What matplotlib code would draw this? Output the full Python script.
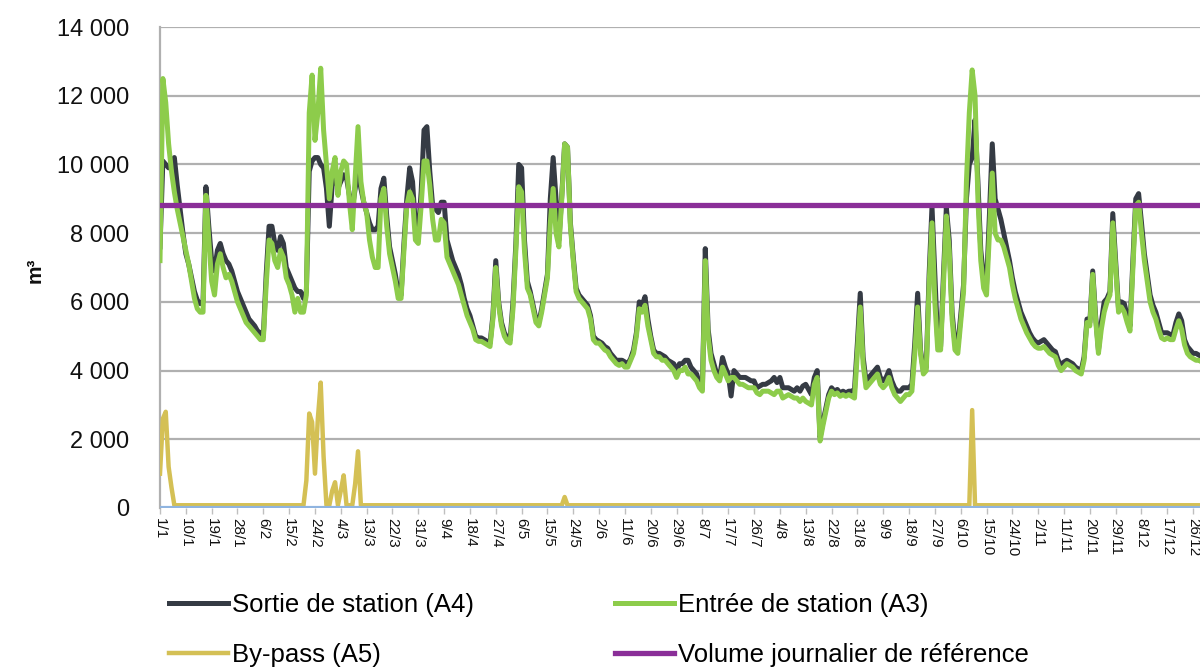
import matplotlib
matplotlib.use("Agg")
import matplotlib.pyplot as plt
import pandas as pd

plt.rcParams['font.family'] = ['Liberation Sans', 'DejaVu Sans']

# daily volumes (m3), leap year, 366 days
dates = pd.date_range("2016-01-01", "2016-12-31", freq="D")
days = list(range(len(dates)))

# Entrée de station (A3)
entree_jan = [7200, 12500, 11800, 10600, 9800, 9200, 8700, 8300, 7900, 7500, 7100, 6600, 6100, 5800, 5700, 5700,
              9100, 7800, 6600, 6200, 7100, 7400, 7000, 6700, 6800, 6600, 6300, 6000, 5800, 5600, 5400]
entree_feb = [5300, 5200, 5100, 5000, 4900, 4900, 6500, 7800, 7700, 7200, 7000, 7500, 7300, 6700, 6500, 6200,
              5700, 6100, 5700, 5700, 6200, 11500, 12600, 10700, 11500, 12800, 11000, 10000, 9000]
entree_mar = [9800, 10200, 9100, 9800, 10100, 10000, 8900, 8100, 9600, 11100, 9500, 8900, 8600, 7800, 7300, 7000,
              7000, 9000, 9300, 8200, 7400, 7000, 6600, 6100, 6100, 7500, 8800, 9200, 9000, 7800, 7700]
entree_apr = [8800, 10100, 10100, 9400, 8400, 7800, 7800, 8400, 8300, 7300, 7100, 6900, 6700, 6500, 6200, 5900,
              5600, 5400, 5200, 4900, 4850, 4850, 4800, 4750, 4700, 5500, 7000, 5900, 5300, 5000]
entree_may = [4850, 4800, 5800, 7500, 9350, 9200, 7500, 6400, 6200, 5800, 5400, 5300, 5700, 6200, 6700, 8300,
              9300, 8000, 7600, 9000, 10600, 10500, 8200, 7200, 6300, 6100, 6000, 5900, 5800, 5500, 4900]
entree_jun = [4800, 4800, 4700, 4600, 4550, 4400, 4300, 4200, 4150, 4200, 4100, 4100, 4300, 4500, 5000, 5800,
              5700, 5900, 5300, 4900, 4500, 4400, 4400, 4300, 4300, 4200, 4100, 4000, 3800, 4000]
entree_jul = [4000, 4100, 3900, 3900, 3800, 3700, 3500, 3400, 7200, 5000, 4300, 4000, 3800, 3700, 4100, 3900,
              3700, 3800, 3800, 3700, 3600, 3600, 3550, 3500, 3500, 3500, 3350, 3300, 3400, 3400, 3400]
entree_aug = [3350, 3300, 3400, 3400, 3200, 3250, 3300, 3250, 3200, 3200, 3100, 3200, 3100, 3050, 3000, 3600,
              3800, 1950, 2400, 2800, 3200, 3400, 3300, 3350, 3250, 3300, 3250, 3300, 3250, 3200, 4500]
entree_sep = [5850, 4200, 3500, 3600, 3700, 3800, 3900, 3600, 3500, 3600, 3800, 3500, 3300, 3200, 3100, 3200,
              3300, 3300, 3400, 4500, 5850, 4500, 3900, 4000, 6500, 8300, 6000, 4600, 4600, 6500]
entree_oct = [8500, 7500, 5500, 4600, 4500, 5400, 6300, 9500, 11500, 12750, 12000, 9000, 7200, 6400, 6200, 8000,
              9750, 8000, 7800, 7800, 7600, 7300, 7000, 6500, 6100, 5800, 5500, 5300, 5100, 4950, 4800]
entree_nov = [4700, 4650, 4650, 4700, 4600, 4500, 4450, 4400, 4150, 4000, 4100, 4200, 4150, 4100, 4000, 3950,
              3900, 4300, 5400, 5300, 6800, 5500, 4500, 5200, 5700, 6000, 6200, 8300, 7000, 5700]
entree_dec = [5850, 5700, 5400, 5150, 7000, 8800, 8900, 8000, 7200, 6600, 6000, 5700, 5500, 5200, 4950, 4900,
              4950, 4900, 4900, 5200, 5450, 5200, 4750, 4500, 4400, 4350, 4300, 4300, 4250, 4200, 4200]

# Sortie de station (A4)
sortie_jan = [7600, 10100, 10000, 9900, 10000, 10200, 9400, 8700, 8000, 7400, 7100, 6700, 6300, 6050, 5950, 6000,
              9350, 8200, 7200, 6900, 7500, 7700, 7400, 7200, 7100, 6900, 6600, 6300, 6100, 5900, 5700]
sortie_feb = [5500, 5400, 5300, 5150, 5100, 5000, 6800, 8200, 8200, 7700, 7500, 7900, 7700, 7000, 6800, 6600,
              6400, 6300, 6300, 6100, 6300, 9800, 10100, 10200, 10200, 10000, 9900, 9300, 8200]
sortie_mar = [9400, 9700, 9300, 9500, 9700, 9600, 9100, 8700, 9300, 9800, 9300, 8900, 8600, 8300, 8100, 8100,
              8200, 9300, 9600, 8500, 7600, 7200, 6800, 6250, 6200, 7700, 9000, 9900, 9500, 8200, 8000]
sortie_apr = [9200, 11000, 11100, 9800, 8800, 8700, 8600, 8900, 8900, 7800, 7500, 7200, 7000, 6800, 6500, 6100,
              5800, 5600, 5300, 5000, 4950, 4950, 4900, 4850, 4800, 5600, 7200, 6000, 5400, 5100]
sortie_may = [4950, 4900, 6000, 7700, 10000, 9900, 7800, 6600, 6300, 5900, 5500, 5400, 5800, 6300, 6800, 9000,
              10200, 9000, 7800, 9100, 10600, 10500, 8300, 7300, 6400, 6200, 6100, 6000, 5900, 5600, 5000]
sortie_jun = [4900, 4850, 4800, 4700, 4650, 4500, 4400, 4300, 4300, 4300, 4250, 4200, 4350, 4600, 5100, 6000,
              5900, 6150, 5500, 5000, 4600, 4500, 4500, 4450, 4400, 4300, 4250, 4200, 4000, 4200]
sortie_jul = [4200, 4300, 4300, 4100, 4000, 3900, 3600, 3500, 7550, 5200, 4500, 4200, 3900, 3800, 4380, 4100,
              3900, 3260, 4000, 3900, 3800, 3800, 3800, 3750, 3700, 3700, 3500, 3550, 3600, 3600, 3650]
sortie_aug = [3700, 3800, 3650, 3800, 3500, 3500, 3500, 3450, 3400, 3500, 3400, 3550, 3600, 3450, 3300, 3800,
              4000, 2050, 2500, 2900, 3300, 3500, 3400, 3450, 3350, 3400, 3350, 3400, 3400, 3450, 4800]
sortie_sep = [6250, 4400, 3700, 3800, 3900, 4000, 4100, 3800, 3700, 3800, 4000, 3700, 3500, 3400, 3400, 3500,
              3500, 3500, 3600, 4800, 6250, 4600, 4000, 4100, 6800, 8770, 6800, 4800, 4700, 6800]
sortie_oct = [8750, 7800, 5700, 4800, 4700, 5600, 6500, 9000, 10000, 10200, 11300, 9500, 7500, 6700, 6500, 8500,
              10600, 9000, 8700, 8400, 8000, 7600, 7200, 6700, 6300, 6000, 5700, 5500, 5300, 5100, 4950]
sortie_nov = [4850, 4800, 4850, 4900, 4800, 4700, 4600, 4550, 4300, 4150, 4250, 4300, 4250, 4200, 4100, 4050,
              4000, 4400, 5500, 5400, 6900, 5600, 4600, 5400, 6000, 6100, 6300, 8570, 7200, 5800]
sortie_dec = [6000, 5950, 5600, 5300, 7200, 9000, 9150, 8300, 7400, 6800, 6200, 5900, 5700, 5400, 5100, 5100,
              5100, 5050, 5050, 5400, 5650, 5450, 4900, 4700, 4600, 4500, 4500, 4450, 4400, 4350, 4350]

entree = (entree_jan + entree_feb + entree_mar + entree_apr + entree_may + entree_jun
          + entree_jul + entree_aug + entree_sep + entree_oct + entree_nov + entree_dec)
sortie = (sortie_jan + sortie_feb + sortie_mar + sortie_apr + sortie_may + sortie_jun
          + sortie_jul + sortie_aug + sortie_sep + sortie_oct + sortie_nov + sortie_dec)

# By-pass (A5): base level and days with overflow
bypass_base = 80
bypass_events = {0: 1000, 1: 2600, 2: 2800, 3: 1200, 4: 600,
                 51: 800, 52: 2750, 53: 2500, 54: 1000, 55: 2600, 56: 3650, 57: 1500,
                 60: 500, 61: 750, 63: 500, 64: 950, 68: 700, 69: 1650,
                 141: 320, 283: 2850}
bypass = [bypass_events.get(d, bypass_base) for d in days]

other = [0] * len(days)          # light blue series, flat at zero
reference = [8830] * len(days)   # Volume journalier de référence

tick_days = days[::9]
tick_labels = [f"{dates[d].day}/{dates[d].month}" for d in tick_days]
yticks = [0, 2000, 4000, 6000, 8000, 10000, 12000, 14000]
ylabels = [f"{v:,}".replace(",", " ") for v in yticks]

fig = plt.figure(figsize=(12, 6.68), dpi=100)
ax = fig.add_axes([160/1200, 160/668, 1047.5/1200, 481/668])

l_sortie, = ax.plot(days, sortie, color="#353b44", lw=3.6, zorder=2, solid_joinstyle="round")
l_entree, = ax.plot(days, entree, color="#8dcc4b", lw=3.6, zorder=3, solid_joinstyle="round")
l_bypass, = ax.plot(days, bypass, color="#d4c055", lw=3.2, zorder=4, solid_joinstyle="round")
ax.plot(days, other, color="#8fb4e0", lw=3, zorder=4.5)
l_ref, = ax.plot(days, reference, color="#8a2e98", lw=3.8, zorder=5)

ax.set_xlim(0, 365)
ax.set_ylim(0, 14000)
ax.set_yticks(yticks)
ax.set_yticklabels(ylabels, fontsize=17, color="#111111")
ax.set_xticks(tick_days)
ax.set_xticklabels(tick_labels, rotation=270, fontsize=11, color="#111111")
ax.tick_params(axis="y", length=0, pad=22)
ax.tick_params(axis="x", length=4, width=1, color="#bfbfbf", pad=3)
ax.grid(axis="y", color="#b0b0b0", lw=1.6)
ax.set_axisbelow(True)
for s in ["top", "right", "bottom"]:
    ax.spines[s].set_visible(False)
ax.spines["left"].set_color("#b0b0b0")
ax.spines["left"].set_linewidth(1.6)

fig.text(35/1200, 1 - 270/668, "m³", rotation=90, fontsize=15, fontweight="bold",
         ha="center", va="center", color="#111111")

leg_kw = dict(frameon=False, fontsize=18.5, handlelength=2.3, handletextpad=0.15,
              labelspacing=1.0, borderpad=0, loc="upper left", bbox_transform=fig.transFigure)
fig.legend([l_sortie, l_bypass], ["Sortie de station (A4)", "By-pass (A5)"],
           bbox_to_anchor=(156/1200, 1 - 580/668), **leg_kw)
fig.legend([l_entree, l_ref], ["Entrée de station (A3)", "Volume journalier de référence"],
           bbox_to_anchor=(602/1200, 1 - 580/668), **leg_kw)

fig.savefig("out.png", dpi=100)
